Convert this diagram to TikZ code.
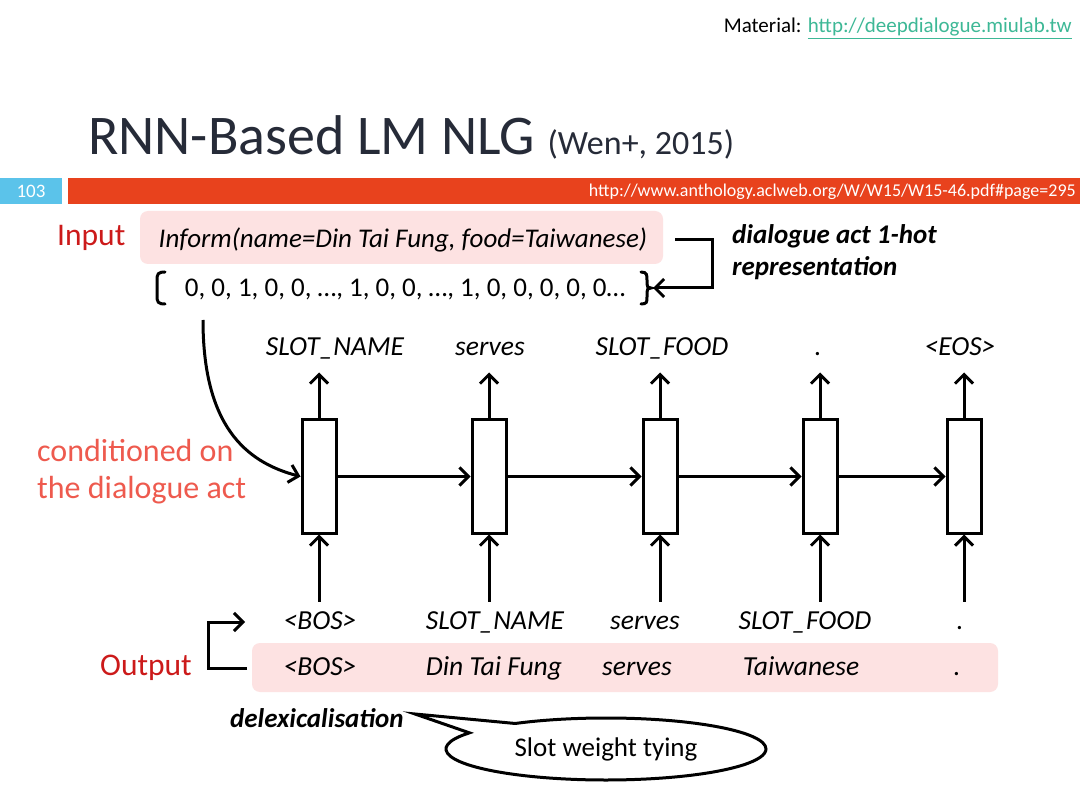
\documentclass[tikz,border=0pt]{standalone}
\usepackage{fontspec}
\setmainfont{Carlito}
\usetikzlibrary{arrows.meta,shapes.callouts}
\definecolor{titlecol}{HTML}{262B38}
\definecolor{barred}{HTML}{E8421D}
\definecolor{barblue}{HTML}{5BC3EA}
\definecolor{pinkfill}{HTML}{FDE2E2}
\definecolor{inred}{HTML}{CC1A1A}
\definecolor{condred}{HTML}{EE5A4E}
\definecolor{linkcol}{HTML}{3DB896}
\newcommand\fsz[1]{\fontsize{#1}{#1}\selectfont}
\tikzset{
  conn/.style={line width=3pt,-{Straight Barb[length=9pt,width=18pt,line width=3pt]}},
  plain/.style={line width=3pt},
  cell/.style={draw,line width=3pt,fill=white,minimum width=34pt,minimum height=113pt,inner sep=0pt},
  tok/.style={font=\fsz{27.5}\itshape,inner sep=0pt,text height=19pt,text depth=6pt},
  pinkbox/.style={fill=pinkfill,rounded corners=8pt,inner sep=0pt},
  redlbl/.style={font=\fsz{31.5},text=inred,inner sep=0pt},
}
\begin{document}
\begin{tikzpicture}[x=1pt,y=-1pt]
\useasboundingbox[fill=white] (0,0) rectangle (1080,810);
% header
\node[anchor=base east,inner sep=0pt,font=\fsz{21}] (mat) at (1072,33) {Material: \textcolor{linkcol}{\underline{http://deepdialogue.miulab.tw}}};
\node[anchor=base west,inner sep=0pt,text=titlecol] (title) at (88,155) {\fsz{56}RNN-Based LM NLG \fsz{34}(Wen+, 2015)};
\fill[barred] (68,178) rectangle (1080,204);
\fill[barblue] (0,178) rectangle (62,204);
\node[text=white,font=\fsz{19},inner sep=0pt] (pnum) at (31,191) {103};
\node[text=white,font=\fsz{18},anchor=east,inner sep=0pt] (url) at (1076,192) {http://www.anthology.aclweb.org/W/W15/W15-46.pdf\#page=295};
% input
\node[redlbl,anchor=base west] (inlbl) at (57,246) {Input};
\node[pinkbox,minimum width=523pt,minimum height=53pt] (inform) at (401.5,237.5) {};
\node[font=\fsz{27}\itshape,inner sep=0pt] (informtxt) at (403,240) {Inform(name=Din Tai Fung, food=Taiwanese)};
\node[font=\fsz{27},inner sep=0pt] (onehot) at (405,289) {0, 0, 1, 0, 0, …, 1, 0, 0, …, 1, 0, 0, 0, 0, 0…};
\draw[plain,line cap=round] (165,272) .. controls (158,272) and (157,274) .. (157,280) -- (157,296) .. controls (157,302) and (158,304) .. (165,304);
\draw[plain,line cap=round] (641,272) .. controls (647,272) and (647,275) .. (647,280) -- (647,284) .. controls (647,287) and (648,288) .. (651,288) .. controls (648,288) and (647,289) .. (647,292) -- (647,297) .. controls (647,302) and (647,304) .. (641,304);
\coordinate (bracetip) at (653,288);
\coordinate (informout) at (675,240);
\draw[conn] (informout) -- (712,240) |- (bracetip);
\node[anchor=west,align=left,font=\fontsize{27}{32}\selectfont\bfseries\itshape,inner sep=0pt] (dact) at (732,252) {dialogue act 1-hot\\representation};
% conditioned
\node[anchor=west,align=left,inner sep=0pt,text=condred,font=\fontsize{32}{37}\selectfont] (cond) at (37,472) {conditioned on\\the dialogue act};
% cells
\node[cell] (c1) at (319,476.5) {};
\node[cell] (c2) at (489,476.5) {};
\node[cell] (c3) at (660,476.5) {};
\node[cell] (c4) at (820,476.5) {};
\node[cell] (c5) at (964,476.5) {};
\foreach \a/\b in {c1/c2,c2/c3,c3/c4,c4/c5} \draw[conn] (\a.east) -- (\b.west);
\coordinate (cstart) at (203,320);
\draw[conn] (cstart) .. controls (203,425) and (245,462) .. (c1.west);
% output labels
\node[tok] (o1) at (335,349) {SLOT\_NAME};
\node[tok] (o2) at (490,349) {serves};
\node[tok] (o3) at (662,349) {SLOT\_FOOD};
\node[tok] (o4) at (818,349) {.};
\node[tok] (o5) at (960,349) {<EOS>};
\foreach \c in {c1,c2,c3,c4,c5} {
  \draw[conn] (\c.north) -- ([yshift=46pt]\c.north);
  \draw[conn] ([yshift=-67pt]\c.south) -- (\c.south);
}
% input tokens
\node[pinkbox,minimum width=746pt,minimum height=49pt] (pink2) at (625,667.5) {};
\node[tok] (i1) at (320,623) {<BOS>};
\node[tok] (i2) at (495,623) {SLOT\_NAME};
\node[tok] (i3) at (645,623) {serves};
\node[tok] (i4) at (805,623) {SLOT\_FOOD};
\node[tok] (i5) at (960,623) {.};
\node[tok] (w1) at (320,669) {<BOS>};
\node[tok] (w2) at (494,669) {Din Tai Fung};
\node[tok] (w3) at (637,669) {serves};
\node[tok] (w4) at (801,669) {Taiwanese};
\node[tok] (w5) at (957,669) {.};
\node[redlbl,anchor=west] (outlbl) at (100,668) {Output};
\coordinate (outA) at (247,668);
\coordinate (outB) at (245,622);
\draw[conn] (outA) -- (208,668) |- (outB);
% delexicalisation
\node[anchor=west,inner sep=0pt,font=\fsz{27}\bfseries\itshape] (delex) at (230,718) {delexicalisation};
\node[ellipse callout,draw,line width=3pt,minimum width=320pt,minimum height=62pt,callout absolute pointer={(415,714)},callout pointer arc=24,font=\fsz{27},inner sep=0pt] (bubble) at (606,749) {Slot weight tying};
\end{tikzpicture}
\end{document}
